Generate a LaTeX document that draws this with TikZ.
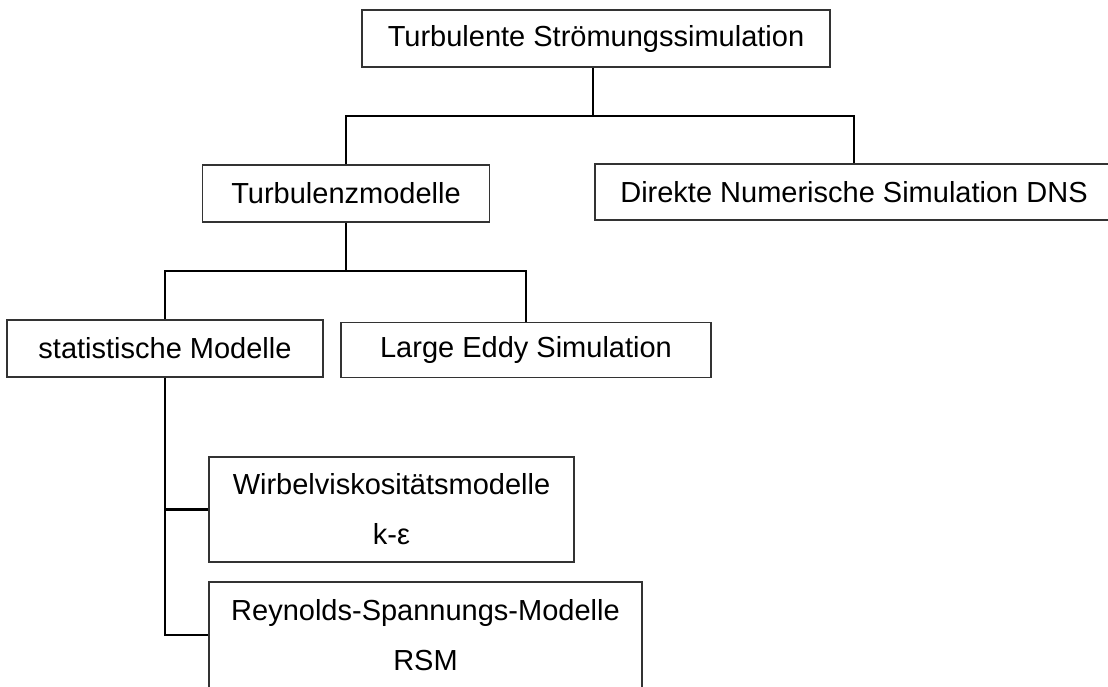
\documentclass[tikz,border=0pt]{standalone}
\usepackage{fontspec}
\setmainfont{Liberation Sans}

\begin{document}
\begin{tikzpicture}[x=1pt,y=-1pt,
    box/.style={draw=black!80,line width=1.3pt,inner sep=0pt,align=center,
      font=\fontsize{29}{50}\selectfont},
    conn/.style={line width=2.8pt}]
  \useasboundingbox (0,0) rectangle (1108,686);
  \clip (0,0) rectangle (1108,686);
  % boxes
  \node[box,minimum width=468pt,minimum height=57pt] (sim) at (596,38.5) {Turbulente Strömungssimulation};
  \node[box,minimum width=287pt,minimum height=57pt] (turb) at (346,193.5) {Turbulenzmodelle};
  \node[box,minimum width=530pt,minimum height=56pt] (dns) at (860,192) {Direkte Numerische Simulation DNS\hspace*{12pt}};
  \node[box,minimum width=316pt,minimum height=57pt] (stat) at (165,348.5) {statistische Modelle};
  \node[box,minimum width=370pt,minimum height=55pt] (les) at (526,350) {Large Eddy Simulation};
  \node[box,minimum width=365pt,minimum height=105pt] (wvm) at (391.5,509.5) {Wirbelviskositätsmodelle\\k-ε};
  \node[box,minimum width=433pt,minimum height=106pt] (rsm) at (425.5,635) {Reynolds-Spannungs-Modelle\\RSM};
  % connectors
  \coordinate (j1) at (593,116);
  \coordinate (j2) at (346,271);
  \draw[conn] (j1 |- sim.south) -- (j1);
  \draw[conn] (turb.north) |- (j1) -| ([xshift=-6pt]dns.north);
  \draw[conn] (turb.south) -- (j2);
  \draw[conn] (stat.north) |- (j2) -| (les.north);
  \draw[conn] (stat.south) |- (rsm.west);
  \draw[conn] (wvm.west) -- (wvm.west -| stat.south);
\end{tikzpicture}
\end{document}
